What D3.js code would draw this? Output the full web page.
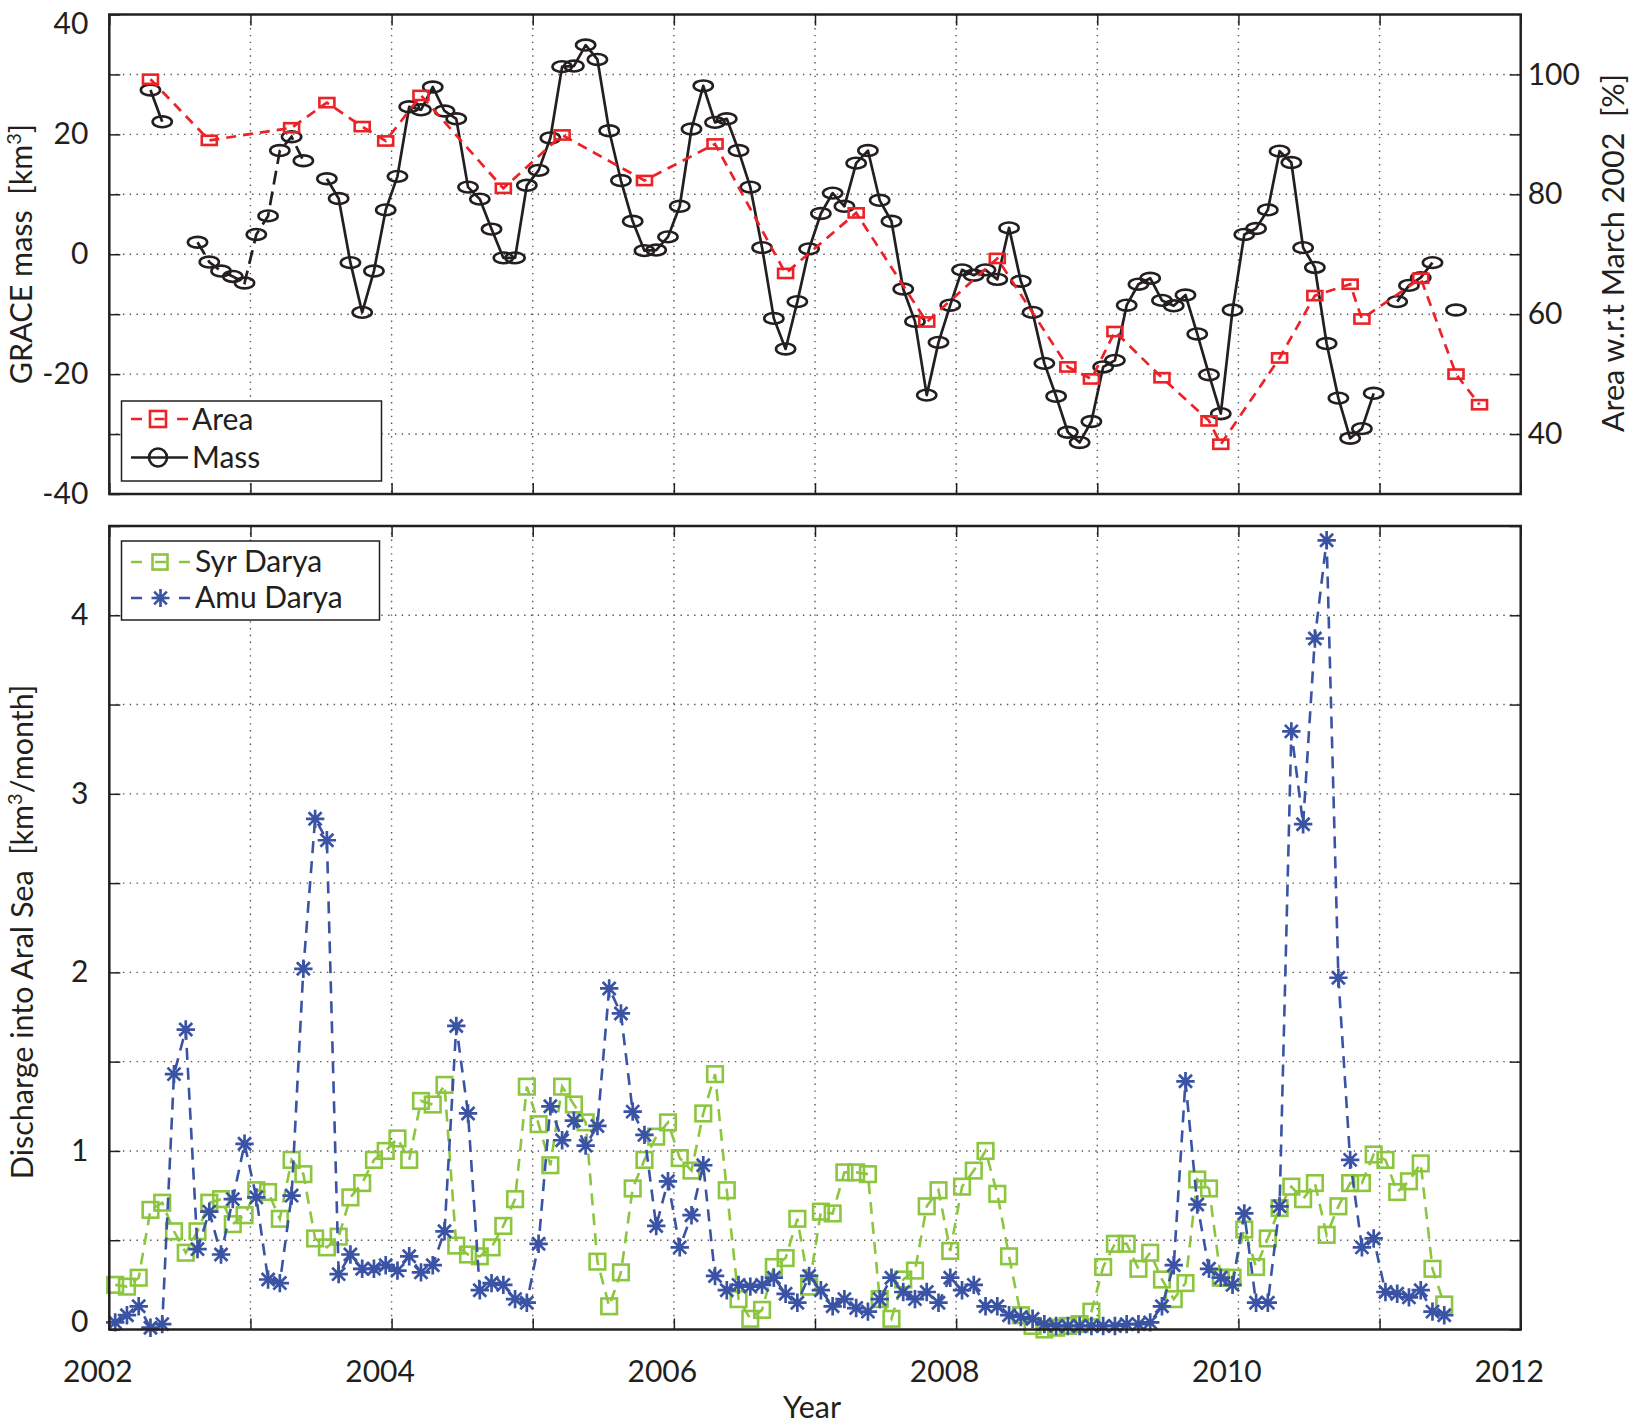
<!DOCTYPE html>
<html>
<head>
<meta charset="utf-8">
<script src="https://cdn.jsdelivr.net/npm/d3@7"></script>
<style>
  body { margin: 0; background: #fff; }
  text { font-family: Lato, "Open Sans", sans-serif; font-size: 30px; fill: #231f20; }
  .title { font-size: 30.5px; }
</style>
</head>
<body>
<div id="myfigure"></div>
<script>
// GRACE mass [km3], one value per month starting 2002-04 (null = no data)
var massStart = "2002-04";
var massValues = [
    27.4, 22.1, null, null, 2.0, -1.3, -2.8, -3.7, -4.8,
    3.3, 6.4, 17.3, 19.6, 15.6, null, 12.6, 9.3, -1.4, -9.7, -2.8, 7.4,
    13.0, 24.6, 24.1, 27.9, 23.9, 22.6, 11.2, 9.2, 4.2, -0.6, -0.6, 11.5,
    14.0, 19.4, 31.3, 31.4, 34.9, 32.5, 20.6, 12.3, 5.5, 0.6, 0.7, 2.9,
    8.0, 20.9, 28.1, 22.0, 22.6, 17.3, 11.2, 1.1, -10.7, -15.8, -7.9, 0.9,
    6.8, 10.2, 8.0, 15.2, 17.3, 9.0, 5.5, -5.8, -11.2, -23.5, -14.7, -8.5,
    -2.6, -3.5, -2.6, -4.2, 4.4, -4.5, -9.7, -18.2, -23.7, -29.7, -31.4, -27.9,
    -18.8, -17.7, -8.5, -5.0, -4.0, -7.7, -8.6, -6.8, -13.3, -20.1, -26.6, -9.3,
    3.3, 4.3, 7.4, 17.2, 15.3, 1.1, -2.2, -14.9, -24.0, -30.7, -29.1, -23.2,
    null, -7.9, -5.2, -3.9, -1.4, null, -9.3
];
// months of the mass series that are drawn with a dashed line
var massDashedFrom = "2002-08";
var massDashedTo = "2003-05";

// lake area w.r.t. March 2002 [%]
var areaDates = [
    "2002-04", "2002-09", "2003-04", "2003-07", "2003-10", "2003-12", "2004-03", "2004-10",
    "2005-03", "2005-10", "2006-04", "2006-10", "2007-04", "2007-10", "2008-04", "2008-10",
    "2008-12", "2009-02", "2009-06", "2009-10", "2009-11", "2010-04", "2010-07", "2010-10",
    "2010-11", "2011-04", "2011-07", "2011-09"
];
var areaValues = [
    99.2, 89.0, 91.1, 95.3, 91.3, 88.9, 96.5, 81.0,
    89.9, 82.3, 88.4, 66.8, 76.9, 58.7, 69.3, 51.2,
    49.2, 57.1, 49.4, 42.2, 38.3, 52.7, 63.1, 65.0,
    59.2, 66.0, 50.0, 44.9
];

// river discharge [km3/month], monthly from 2002-01
var dischargeStart = "2002-01";
var syrValues = [
    0.25, 0.24, 0.29, 0.67, 0.71, 0.55, 0.43, 0.55, 0.71, 0.73, 0.59, 0.64,
    0.78, 0.77, 0.62, 0.95, 0.87, 0.51, 0.46, 0.52, 0.74, 0.82, 0.95, 1.00,
    1.07, 0.95, 1.28, 1.26, 1.37, 0.47, 0.42, 0.41, 0.46, 0.58, 0.73, 1.36,
    1.15, 0.92, 1.36, 1.26, 1.16, 0.38, 0.13, 0.32, 0.79, 0.95, 1.08, 1.16,
    0.96, 0.89, 1.21, 1.43, 0.78, 0.17, 0.06, 0.11, 0.35, 0.40, 0.62, 0.24,
    0.66, 0.65, 0.88, 0.88, 0.87, 0.17, 0.06, 0.28, 0.33, 0.69, 0.78, 0.44,
    0.80, 0.89, 1.00, 0.76, 0.41, 0.08, 0.02, 0.00, 0.01, 0.02, 0.03, 0.10,
    0.35, 0.48, 0.48, 0.34, 0.43, 0.28, 0.17, 0.26, 0.84, 0.79, 0.29, 0.29,
    0.56, 0.35, 0.51, 0.68, 0.80, 0.73, 0.82, 0.53, 0.69, 0.82, 0.82, 0.98,
    0.95, 0.77, 0.83, 0.93, 0.34, 0.14
];
var amuValues = [
    0.04, 0.08, 0.13, 0.01, 0.03, 1.43, 1.68, 0.45, 0.66, 0.42, 0.73, 1.04,
    0.74, 0.28, 0.26, 0.75, 2.02, 2.86, 2.74, 0.31, 0.42, 0.34, 0.34, 0.36,
    0.33, 0.41, 0.32, 0.36, 0.55, 1.70, 1.21, 0.22, 0.26, 0.25, 0.17, 0.15,
    0.48, 1.25, 1.06, 1.17, 1.03, 1.14, 1.91, 1.77, 1.22, 1.09, 0.58, 0.83,
    0.46, 0.64, 0.92, 0.30, 0.22, 0.25, 0.24, 0.25, 0.29, 0.20, 0.15, 0.30,
    0.22, 0.13, 0.17, 0.12, 0.10, 0.17, 0.29, 0.21, 0.17, 0.21, 0.15, 0.29,
    0.22, 0.25, 0.13, 0.13, 0.08, 0.07, 0.06, 0.03, 0.02, 0.02, 0.02, 0.02,
    0.02, 0.02, 0.03, 0.03, 0.04, 0.13, 0.36, 1.39, 0.70, 0.34, 0.29, 0.25,
    0.65, 0.15, 0.15, 0.69, 3.35, 2.83, 3.87, 4.42, 1.97, 0.95, 0.46, 0.51,
    0.21, 0.20, 0.18, 0.22, 0.10, 0.08
];

// ticks
var yearTicks = [2002, 2003, 2004, 2005, 2006, 2007, 2008, 2009, 2010, 2011, 2012];
var yearLabels = [2002, 2004, 2006, 2008, 2010, 2012];
var massTicks = [-40, -30, -20, -10, 0, 10, 20, 30, 40];
var massLabels = [-40, -20, 0, 20, 40];
var areaTicks = [40, 50, 60, 70, 80, 90, 100];
var areaLabels = [40, 60, 80, 100];
var dischargeTicks = [0, 0.5, 1, 1.5, 2, 2.5, 3, 3.5, 4, 4.5];
var dischargeLabels = [0, 1, 2, 3, 4];

var colors = { area: "#ec2227", mass: "#231f20", syr: "#8cc63f", amu: "#3a53a4" };

var width = 1632, height = 1427;
var x0 = 109.3, x1 = 1520.7;
var top1 = 14.5, bot1 = 494;
var top2 = 526, bot2 = 1329.5;
var tick = 11;

// "YYYY-MM" -> decimal year at mid month
function decYear(s) {
    var p = s.split("-");
    return +p[0] + (+p[1] - 0.5) / 12;
}
function monthly(start, values) {
    var p = start.split("-");
    var y = +p[0], m = +p[1] - 1;
    return values.map(function(v, i) {
        var mm = m + i;
        return { t: y + Math.floor(mm / 12) + ((mm % 12) + 0.5) / 12, v: v };
    });
}

var xScale = d3.scaleLinear().domain([2002, 2012]).range([x0, x1]);
var yMass = d3.scaleLinear().domain([-40, 40]).range([bot1, top1]);
var yArea = d3.scaleLinear().domain([30, 110]).range([bot1, top1]);
var yDis = d3.scaleLinear().domain([0, 4.5]).range([bot2, top2]);

var svg = d3.select("#myfigure")
    .append("svg")
    .attr("width", width)
    .attr("height", height);

function grid(yScale, yVals, yTop, yBot) {
    var g = svg.append("g")
        .attr("stroke", "#555")
        .attr("stroke-width", 1.4)
        .attr("stroke-dasharray", "1.4,5.4");
    yearTicks.slice(1, -1).forEach(function(t) {
        g.append("line").attr("x1", xScale(t)).attr("x2", xScale(t))
            .attr("y1", yTop).attr("y2", yBot);
    });
    yVals.slice(1, -1).forEach(function(v) {
        g.append("line").attr("x1", x0).attr("x2", x1)
            .attr("y1", yScale(v)).attr("y2", yScale(v));
    });
}

function styleAxis(g) {
    g.attr("color", "#231f20").attr("font-size", null).attr("font-family", null);
    g.select(".domain").remove();
    g.selectAll(".tick line").attr("stroke-width", 1.5);
}

function fmt(list) {
    return function(d) { return list.indexOf(d) >= 0 ? String(d) : ""; };
}

// ---------- top panel ----------
grid(yMass, massTicks, top1, bot1);

svg.append("g")
    .attr("transform", "translate(" + x0 + ",0)")
    .call(d3.axisLeft(yMass).tickValues(massTicks).tickSizeInner(-tick).tickSizeOuter(0)
        .tickPadding(21).tickFormat(fmt(massLabels)))
    .call(styleAxis)
    .call(function(g) {
        g.selectAll(".tick text").filter(function(d) { return d === 40; }).attr("dy", "0.62em");
    });

svg.append("g")
    .attr("transform", "translate(" + x1 + ",0)")
    .call(d3.axisRight(yArea).tickValues(areaTicks).tickSizeInner(-tick).tickSizeOuter(0)
        .tickPadding(7).tickFormat(fmt(areaLabels)))
    .call(styleAxis);

svg.append("g")
    .attr("transform", "translate(0," + bot1 + ")")
    .call(d3.axisBottom(xScale).tickValues(yearTicks).tickSizeInner(-tick).tickSizeOuter(0).tickFormat(""))
    .call(styleAxis);
svg.append("g")
    .attr("transform", "translate(0," + top1 + ")")
    .call(d3.axisTop(xScale).tickValues(yearTicks).tickSizeInner(-tick).tickSizeOuter(0).tickFormat(""))
    .call(styleAxis);

// mass line, dashed part kept separate
var mass = monthly(massStart, massValues);
var dashFrom = decYear(massDashedFrom), dashTo = decYear(massDashedTo);
var inDash = function(d) { return d.t > dashFrom - 0.01 && d.t < dashTo + 0.01; };

var massLine = d3.line()
    .defined(function(d) { return d.v !== null; })
    .x(function(d) { return xScale(d.t); })
    .y(function(d) { return yMass(d.v); });

svg.append("path")
    .datum(mass.map(function(d) { return inDash(d) ? { t: d.t, v: null } : d; }))
    .attr("d", massLine)
    .attr("fill", "none")
    .attr("stroke", colors.mass)
    .attr("stroke-width", 2.7)
    .attr("stroke-linejoin", "round");
svg.append("path")
    .datum(mass.filter(inDash))
    .attr("d", massLine)
    .attr("fill", "none")
    .attr("stroke", colors.mass)
    .attr("stroke-width", 2.7)
    .attr("stroke-dasharray", "14,7");

svg.append("g").selectAll("ellipse")
    .data(mass.filter(function(d) { return d.v !== null; }))
    .enter().append("ellipse")
    .attr("cx", function(d) { return xScale(d.t); })
    .attr("cy", function(d) { return yMass(d.v); })
    .attr("rx", 9.6)
    .attr("ry", 5.4)
    .attr("fill", "none")
    .attr("stroke", colors.mass)
    .attr("stroke-width", 2.6);

// area line
var area = areaDates.map(function(s, i) { return { t: decYear(s), v: areaValues[i] }; });
svg.append("path")
    .datum(area)
    .attr("d", d3.line()
        .x(function(d) { return xScale(d.t); })
        .y(function(d) { return yArea(d.v); }))
    .attr("fill", "none")
    .attr("stroke", colors.area)
    .attr("stroke-width", 2.7)
    .attr("stroke-dasharray", "10,7");

svg.append("g").selectAll("rect")
    .data(area)
    .enter().append("rect")
    .attr("x", function(d) { return xScale(d.t) - 7.5; })
    .attr("y", function(d) { return yArea(d.v) - 4.6; })
    .attr("width", 15)
    .attr("height", 9.2)
    .attr("fill", "none")
    .attr("stroke", colors.area)
    .attr("stroke-width", 2.6);

svg.append("rect")
    .attr("x", x0).attr("y", top1)
    .attr("width", x1 - x0).attr("height", bot1 - top1)
    .attr("fill", "none").attr("stroke", "#231f20").attr("stroke-width", 2.5);

// legend (top)
var leg1 = svg.append("g");
leg1.append("rect").attr("x", 121.5).attr("y", 401).attr("width", 260).attr("height", 80)
    .attr("fill", "#fff").attr("stroke", "#231f20").attr("stroke-width", 1.5);
leg1.append("line").attr("x1", 131).attr("x2", 188).attr("y1", 419).attr("y2", 419)
    .attr("stroke", colors.area).attr("stroke-width", 2.6).attr("stroke-dasharray", "11,12.5,10,12.5,11");
leg1.append("rect").attr("x", 150).attr("y", 411).attr("width", 16).attr("height", 16)
    .attr("fill", "none").attr("stroke", colors.area).attr("stroke-width", 2.6);
leg1.append("text").attr("x", 192).attr("y", 430).text("Area");
leg1.append("line").attr("x1", 131).attr("x2", 188).attr("y1", 457.5).attr("y2", 457.5)
    .attr("stroke", colors.mass).attr("stroke-width", 2.6);
leg1.append("circle").attr("cx", 158).attr("cy", 457.5).attr("r", 9)
    .attr("fill", "none").attr("stroke", colors.mass).attr("stroke-width", 2.6);
leg1.append("text").attr("x", 192).attr("y", 468).text("Mass");

// ---------- bottom panel ----------
grid(yDis, dischargeTicks, top2, bot2);

svg.append("g")
    .attr("transform", "translate(" + x0 + ",0)")
    .call(d3.axisLeft(yDis).tickValues(dischargeTicks).tickSizeInner(-tick).tickSizeOuter(0)
        .tickPadding(21).tickFormat(fmt(dischargeLabels)))
    .call(styleAxis)
    .call(function(g) {
        g.selectAll(".tick text").filter(function(d) { return d === 0; }).attr("dy", "0.05em");
    });
svg.append("g")
    .attr("transform", "translate(" + x1 + ",0)")
    .call(d3.axisRight(yDis).tickValues(dischargeTicks).tickSizeInner(-tick).tickSizeOuter(0).tickFormat(""))
    .call(styleAxis);
svg.append("g")
    .attr("transform", "translate(0," + bot2 + ")")
    .call(d3.axisBottom(xScale).tickValues(yearTicks).tickSizeInner(-tick).tickSizeOuter(0)
        .tickFormat(fmt(yearLabels)))
    .call(styleAxis)
    .call(function(g) {
        g.selectAll(".tick text").attr("y", 52.5).attr("dy", null).attr("dx", -12);
    });
svg.append("g")
    .attr("transform", "translate(0," + top2 + ")")
    .call(d3.axisTop(xScale).tickValues(yearTicks).tickSizeInner(-tick).tickSizeOuter(0).tickFormat(""))
    .call(styleAxis);

var syr = monthly(dischargeStart, syrValues);
var amu = monthly(dischargeStart, amuValues);
var disLine = d3.line()
    .x(function(d) { return xScale(d.t); })
    .y(function(d) { return yDis(d.v); });

svg.append("path")
    .datum(syr)
    .attr("d", disLine)
    .attr("fill", "none")
    .attr("stroke", colors.syr)
    .attr("stroke-width", 2.6)
    .attr("stroke-dasharray", "12,8");
svg.append("g").selectAll("rect")
    .data(syr)
    .enter().append("rect")
    .attr("x", function(d) { return xScale(d.t) - 7.8; })
    .attr("y", function(d) { return yDis(d.v) - 7.8; })
    .attr("width", 15.6)
    .attr("height", 15.6)
    .attr("fill", "none")
    .attr("stroke", colors.syr)
    .attr("stroke-width", 2.6);

var star = function(r) {
    var a = r * 0.707;
    return "M" + (-r) + ",0H" + r + "M0," + (-r) + "V" + r +
        "M" + (-a) + "," + (-a) + "L" + a + "," + a + "M" + (-a) + "," + a + "L" + a + "," + (-a);
};

svg.append("path")
    .datum(amu)
    .attr("d", disLine)
    .attr("fill", "none")
    .attr("stroke", colors.amu)
    .attr("stroke-width", 2.6)
    .attr("stroke-dasharray", "12,8");
svg.append("g").selectAll("path")
    .data(amu)
    .enter().append("path")
    .attr("transform", function(d) { return "translate(" + xScale(d.t) + "," + yDis(d.v) + ")"; })
    .attr("d", star(9.2))
    .attr("fill", "none")
    .attr("stroke", colors.amu)
    .attr("stroke-width", 2.7);

svg.append("rect")
    .attr("x", x0).attr("y", top2)
    .attr("width", x1 - x0).attr("height", bot2 - top2)
    .attr("fill", "none").attr("stroke", "#231f20").attr("stroke-width", 2.5);

// legend (bottom)
var leg2 = svg.append("g");
leg2.append("rect").attr("x", 121.5).attr("y", 541).attr("width", 258).attr("height", 79)
    .attr("fill", "#fff").attr("stroke", "#231f20").attr("stroke-width", 1.5);
leg2.append("line").attr("x1", 131).attr("x2", 190).attr("y1", 562).attr("y2", 562)
    .attr("stroke", colors.syr).attr("stroke-width", 2.6).attr("stroke-dasharray", "11,13,11,13,11");
leg2.append("rect").attr("x", 152.5).attr("y", 554.5).attr("width", 15).attr("height", 15)
    .attr("fill", "none").attr("stroke", colors.syr).attr("stroke-width", 2.6);
leg2.append("text").attr("x", 195).attr("y", 572).text("Syr Darya");
leg2.append("line").attr("x1", 131).attr("x2", 190).attr("y1", 598).attr("y2", 598)
    .attr("stroke", colors.amu).attr("stroke-width", 2.6).attr("stroke-dasharray", "11,13,11,13,11");
leg2.append("path").attr("transform", "translate(160.5,598)").attr("d", star(9))
    .attr("fill", "none").attr("stroke", colors.amu).attr("stroke-width", 2.7);
leg2.append("text").attr("x", 195).attr("y", 608).text("Amu Darya");

// axis titles
var t1 = svg.append("text")
    .attr("class", "title")
    .attr("transform", "translate(32,254) rotate(-90)")
    .attr("text-anchor", "middle")
    .style("white-space", "pre");
t1.append("tspan").text("GRACE mass  [km");
t1.append("tspan").attr("dy", -11).style("font-size", "20px").text("3");
t1.append("tspan").attr("dy", 11).text("]");

svg.append("text")
    .attr("class", "title")
    .attr("transform", "translate(1624,253) rotate(-90)")
    .attr("text-anchor", "middle")
    .style("white-space", "pre")
    .text("Area w.r.t March 2002  [%]");

var t3 = svg.append("text")
    .attr("class", "title")
    .attr("transform", "translate(33,932) rotate(-90)")
    .attr("text-anchor", "middle")
    .style("white-space", "pre");
t3.append("tspan").text("Discharge into Aral Sea  [km");
t3.append("tspan").attr("dy", -11).style("font-size", "20px").text("3");
t3.append("tspan").attr("dy", 11).text("/month]");

svg.append("text")
    .attr("class", "title")
    .attr("x", 812)
    .attr("y", 1418)
    .attr("text-anchor", "middle")
    .text("Year");
</script>
</body>
</html>
